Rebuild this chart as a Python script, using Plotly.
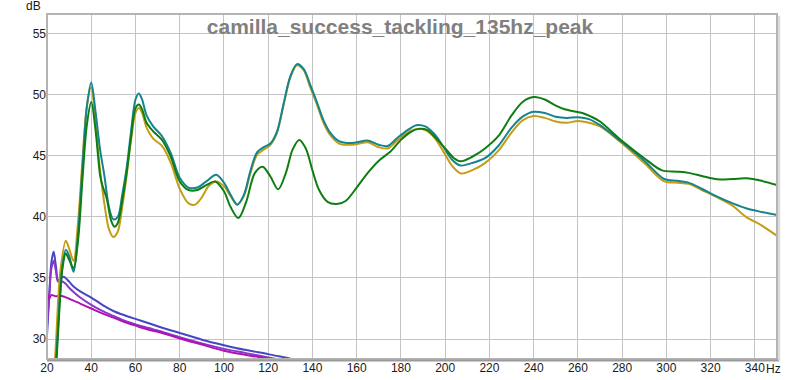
import plotly.graph_objects as go

# ---------------- data ----------------
teal_f = [23, 25, 27, 28.5, 30, 32, 34, 36, 38, 40, 42, 44, 46, 48, 50, 52, 54, 56, 58, 60, 61.5, 63, 65, 68, 72,
          76, 80, 84, 88, 92, 96.5, 100, 103, 106, 109, 112, 115, 118, 121, 124, 127, 130, 133, 136, 139, 142, 145,
          148, 152, 156, 160, 165, 170, 174, 178, 183, 187, 191, 195, 199, 203, 207, 212, 218, 224, 230, 235, 240,
          245, 250, 255, 260, 265, 270, 280, 290, 299, 305, 310, 316, 323, 330, 336, 343, 350]
teal_db = [25.0, 31.0, 36.0, 37.3, 36.8, 35.5, 38.5, 44.0, 49.0, 51.0, 48.5, 45.5, 43.3, 40.8, 39.8, 40.0, 41.8, 44.0,
           47.0, 49.6, 50.1, 49.6, 48.3, 47.4, 46.6, 45.2, 43.2, 42.4, 42.4, 42.9, 43.45, 42.8, 41.8, 41.0, 41.8,
           43.8, 45.3, 45.7, 46.0, 47.0, 49.3, 51.5, 52.5, 52.1, 50.8, 49.4, 47.9, 46.9, 46.2, 46.05, 46.1, 46.25,
           45.9, 45.8, 46.4, 47.1, 47.5, 47.4, 46.8, 45.8, 44.7, 44.2, 44.4, 44.8, 45.8, 47.3, 48.2, 48.6, 48.5,
           48.2, 48.1, 48.15, 48.0, 47.5, 46.1, 44.6, 43.1, 42.95, 42.8, 42.3, 41.65, 41.1, 40.7, 40.4, 40.15]

green_f = [23, 25, 27, 28.5, 30, 32, 34, 36, 38, 40, 42, 44, 45, 47, 49, 50.5, 52, 54, 56, 58, 60, 61.5, 63, 65, 68,
           72, 76, 80, 84, 88, 92, 96, 100, 103, 106.5, 110, 114, 117.5, 121, 124.5, 128, 131, 134, 137, 140, 143,
           147, 151, 155, 160, 165, 170, 175, 180, 184, 188, 192, 196, 200, 204, 207, 212, 218, 224, 230, 235, 240,
           245, 250, 254, 258, 262, 266, 270, 280, 290, 298, 305, 310, 316, 323, 330, 336, 343, 350]
green_db = [24.0, 30.5, 35.8, 37.0, 36.5, 35.8, 38.0, 43.0, 47.5, 49.4, 47.0, 43.4, 42.6, 41.5, 39.7, 39.2, 39.5,
            41.3, 43.6, 46.5, 48.9, 49.2, 48.8, 47.7, 47.0, 46.3, 44.9, 42.9, 42.2, 42.2, 42.6, 42.9, 42.1, 40.8,
            39.9, 41.2, 43.6, 44.1, 43.3, 42.25, 43.6, 45.5, 46.3, 45.6, 43.8, 42.2, 41.2, 41.05, 41.3, 42.4, 43.6,
            44.6, 45.3, 46.3, 46.9, 47.2, 47.1, 46.4, 45.6, 44.8, 44.55, 44.9, 45.6, 46.6, 48.3, 49.4, 49.8, 49.6,
            49.1, 48.8, 48.65, 48.5, 48.2, 47.8, 46.2, 44.8, 43.8, 43.7, 43.6, 43.35, 43.07, 43.1, 43.15, 42.95, 42.6]

gold_f = [22.5, 24, 26, 28.5, 30, 32, 34, 36, 38, 40, 42, 44, 46, 48, 50, 52, 54, 56, 58, 60, 61.5, 63, 65, 68, 72,
          76, 80, 84, 87, 90, 93, 96.5, 100, 103, 106, 109, 112, 115, 118, 121, 124, 127, 130, 133, 136, 139, 142,
          145, 148, 152, 156, 160, 165, 170, 174, 178, 183, 187, 191, 195, 199, 203, 207, 212, 218, 224, 230, 235,
          240, 245, 250, 255, 260, 265, 270, 280, 290, 299, 305, 310, 316, 323, 330, 336, 343, 350]
gold_db = [25.0, 29.5, 35.5, 38.05, 37.4, 36.4, 39.5, 44.5, 49.0, 50.6, 47.5, 43.8, 41.0, 39.0, 38.35, 38.8, 40.8,
           43.4, 46.3, 48.5, 48.9, 48.5, 47.3, 46.4, 45.8, 44.4, 42.3, 41.1, 41.0, 41.6, 42.5, 42.9, 42.5, 41.7,
           41.0, 41.7, 43.6, 45.1, 45.5, 45.9, 46.9, 49.2, 51.4, 52.4, 52.0, 50.6, 49.2, 47.7, 46.7, 46.0, 45.9,
           45.95, 46.1, 45.7, 45.6, 46.2, 46.9, 47.2, 47.1, 46.5, 45.4, 44.2, 43.55, 43.8, 44.4, 45.4, 46.9, 47.9,
           48.25, 48.1, 47.8, 47.7, 47.85, 47.7, 47.4, 46.0, 44.4, 42.9, 42.8, 42.7, 42.2, 41.6, 40.9, 40.0, 39.3,
           38.45]

blue_f = [20, 21, 22, 23, 24, 25, 26, 27.5, 30, 32, 35, 40, 45, 50, 55, 60, 66, 70, 80, 90, 100, 110, 120, 130, 136]
blue_db = [30.3, 33.5, 36.3, 37.15, 36.0, 34.8, 34.9, 35.1, 34.7, 34.3, 33.9, 33.4, 32.8, 32.3, 31.95, 31.65, 31.3,
           31.05, 30.5, 29.95, 29.5, 29.1, 28.77, 28.4, 28.2]

purple_f = [20, 21, 22, 23, 24, 25, 26, 28, 30, 32, 35, 40, 45, 50, 55, 60, 66, 70, 80, 90, 100, 110, 120, 126]
purple_db = [31.0, 33.5, 35.8, 36.4, 35.6, 34.7, 34.75, 34.6, 34.2, 33.85, 33.4, 32.8, 32.3, 31.9, 31.5, 31.2, 30.9,
             30.7, 30.15, 29.65, 29.2, 28.85, 28.5, 28.3]

magenta_f = [20, 20.5, 21, 22, 24, 26, 28, 30, 32, 35, 40, 45, 50, 55, 60, 66, 70, 80, 90, 100, 110, 120, 126]
magenta_db = [33.0, 33.6, 33.3, 33.6, 33.5, 33.55, 33.45, 33.3, 33.15, 32.9, 32.5, 32.1, 31.75, 31.4, 31.1, 30.76,
              30.6, 30.05, 29.55, 29.05, 28.7, 28.4, 28.2]

x_ticks = [20, 40, 60, 80, 100, 120, 140, 160, 180, 200, 220, 240, 260, 280, 300, 320, 340]
x_tick_text = ["20", "40", "60", "80", "100", "120", "140", "160", "180", "200", "220", "240", "260", "280",
               "300", "320", "340"]
y_ticks = [30, 35, 40, 45, 50, 55]
title_text = "camilla_success_tackling_135hz_peak"

# ---------------- figure ----------------
FONT = "Liberation Sans, Arial, sans-serif"
fig = go.Figure()

series = [
    (blue_f, blue_db, "#4646c4"),
    (purple_f, purple_db, "#8a38c8"),
    (magenta_f, magenta_db, "#b012b4"),
    (gold_f, gold_db, "#c49c16"),
    (teal_f, teal_db, "#14848e"),
    (green_f, green_db, "#0e7e12"),
]
for f, db, col in series:
    fig.add_trace(go.Scatter(x=f, y=db, mode="lines", hoverinfo="skip",
                             line=dict(color=col, width=2, shape="spline", smoothing=0.9)))

fig.update_layout(
    width=800, height=380,
    margin=dict(l=47, r=23, t=14, b=21, autoexpand=False),
    paper_bgcolor="white", plot_bgcolor="white",
    showlegend=False,
    font=dict(family=FONT, size=12, color="#1a1a1a"),
    title=dict(text=title_text, xref="container", yref="container", x=0.5, y=1 - 27 / 380,
               xanchor="center", yanchor="middle", automargin=False,
               font=dict(family=FONT, size=21, color="#808080", weight="bold")),
    xaxis=dict(range=[20, 350], tickvals=x_ticks, ticktext=x_tick_text, showgrid=True, automargin=False,
               gridcolor="#c4c4c4", gridwidth=1, zeroline=False, showline=False, ticks="",
               tickfont=dict(size=12, color="#1a1a1a")),
    yaxis=dict(range=[28.37, 56.6], tickvals=y_ticks, showgrid=True, gridcolor="#c4c4c4", gridwidth=1,
               automargin=False, zeroline=False, showline=False, ticks="",
               tickfont=dict(size=12, color="#1a1a1a")),
    annotations=[
        dict(text="dB", xref="paper", yref="paper", x=-0.005, y=1.0, yshift=8, xanchor="right",
             yanchor="middle", showarrow=False, font=dict(size=12, color="#1a1a1a")),
        dict(text="Hz", xref="x", yref="paper", x=344.3, y=0, yshift=-10, xanchor="left",
             yanchor="middle", showarrow=False, font=dict(size=12, color="#1a1a1a")),
    ],
    shapes=[
        dict(type="rect", xref="paper", yref="paper", x0=0, x1=1, y0=0, y1=1,
             line=dict(color="#b4b4b4", width=2), layer="above"),
        dict(type="line", xref="paper", yref="paper", x0=0, x1=1.003, y0=-0.004, y1=-0.004,
             line=dict(color="#9a9a9a", width=2), layer="above"),
        dict(type="line", xref="paper", yref="paper", x0=1.003, x1=1.003, y0=-0.004, y1=0.995,
             line=dict(color="#d8d8d8", width=2), layer="above"),
    ],
)

fig.write_html("out.html", config={"displayModeBar": False, "staticPlot": True},
               post_script="document.body.style.margin='0px';document.body.style.overflow='hidden';")
